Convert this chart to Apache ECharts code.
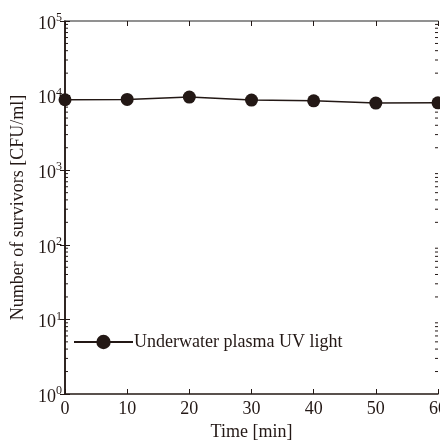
<!DOCTYPE html>
<html>
<head>
<meta charset="utf-8">
<script src="https://cdn.jsdelivr.net/npm/echarts@6/dist/echarts.min.js"></script>
<style>
html,body{margin:0;padding:0;background:#fff;}
#chart{width:440px;height:441px;}
</style>
</head>
<body>
<div id="chart"></div>
<script>
const times = [0, 10, 20, 30, 40, 50, 60];
const survivors = [8800, 8900, 9550, 8700, 8500, 7950, 8000];
const xTicks = [0, 10, 20, 30, 40, 50, 60];
const yDecades = [1, 10, 100, 1000, 10000, 100000];
const seriesName = 'Underwater plasma UV light';
const xTitle = 'Time [min]';
const yTitle = 'Number of survivors [CFU/ml]';

const ink = '#231815';
const font = 'Liberation Serif';

// minor log ticks (2..9 within each decade)
const minorTicks = [];
for (let i = 0; i < yDecades.length - 1; i++) {
  for (let k = 2; k <= 9; k++) minorTicks.push([0, k * yDecades[i]]);
}

const chart = echarts.init(document.getElementById('chart'), null, {renderer: 'canvas'});
chart.setOption({
  animation: false,
  backgroundColor: '#fff',
  grid: {left: 65, right: 2, top: 21, bottom: 47, containLabel: false, outerBoundsMode: 'none'},
  legend: {
    data: [seriesName],
    left: 73, top: 333, padding: 0,
    itemWidth: 59, itemHeight: 18, itemGap: 0,
    textStyle: {fontFamily: font, fontSize: 18, color: ink, padding: [0, 0, 0, -4]}
  },
  xAxis: [{
    type: 'value', min: xTicks[0], max: xTicks[xTicks.length - 1], interval: 10,
    position: 'bottom',
    axisLine: {lineStyle: {color: ink, width: 1.5}},
    axisTick: {inside: true, length: 5, lineStyle: {color: ink, width: 1}},
    splitLine: {show: false},
    axisLabel: {fontFamily: font, fontSize: 18, color: ink, margin: 6},
    name: xTitle, nameLocation: 'middle', nameGap: 26,
    nameTextStyle: {fontFamily: font, fontSize: 18, color: ink}
  }, {
    type: 'value', min: xTicks[0], max: xTicks[xTicks.length - 1], interval: 10,
    position: 'top',
    axisLine: {lineStyle: {color: '#6e6e6e', width: 1.5}},
    axisTick: {inside: true, length: 5, lineStyle: {color: ink, width: 1}},
    splitLine: {show: false},
    axisLabel: {show: false}
  }],
  yAxis: [{
    type: 'log', logBase: 10, min: yDecades[0], max: yDecades[yDecades.length - 1],
    position: 'left',
    axisLine: {show: true, lineStyle: {color: ink, width: 1.5}},
    axisTick: {show: true, inside: true, length: 5, lineStyle: {color: ink, width: 1}},
    splitLine: {show: false},
    axisLabel: {
      margin: 3,
      formatter: function (v) {
        const e = Math.round(Math.log10(v));
        return '{b|10}{s|' + e + '}';
      },
      rich: {
        b: {fontFamily: font, fontSize: 18, color: ink, padding: [6, 0, 0, 0]},
        s: {fontFamily: font, fontSize: 12, color: ink, padding: [0, 0, 6, 0]}
      }
    },
    name: yTitle, nameLocation: 'middle', nameGap: 35, nameRotate: 90,
    nameTextStyle: {fontFamily: font, fontSize: 18, color: ink}
  }, {
    type: 'log', logBase: 10, min: yDecades[0], max: yDecades[yDecades.length - 1],
    position: 'right',
    axisLine: {show: true, lineStyle: {color: ink, width: 1.5}},
    axisTick: {show: true, inside: true, length: 5, lineStyle: {color: ink, width: 1}},
    splitLine: {show: false},
    axisLabel: {show: false}
  }],
  series: [{
    name: seriesName,
    type: 'line',
    data: times.map((t, i) => [t, survivors[i]]),
    symbol: 'circle', symbolSize: 13,
    lineStyle: {color: ink, width: 1.5},
    itemStyle: {color: ink},
    clip: false,
    z: 5
  }, {
    name: 'minorTicks',
    type: 'custom',
    data: minorTicks,
    clip: false,
    silent: true,
    renderItem: function (params, api) {
      const v = api.value(1);
      const pl = api.coord([xTicks[0], v]);
      const pr = api.coord([xTicks[xTicks.length - 1], v]);
      return {
        type: 'group',
        children: [
          {type: 'line', shape: {x1: pl[0], y1: pl[1], x2: pl[0] + 3, y2: pl[1]}, style: {stroke: ink, lineWidth: 1}},
          {type: 'line', shape: {x1: pr[0], y1: pr[1], x2: pr[0] - 3, y2: pr[1]}, style: {stroke: ink, lineWidth: 1}}
        ]
      };
    }
  }]
});
</script>
</body>
</html>
